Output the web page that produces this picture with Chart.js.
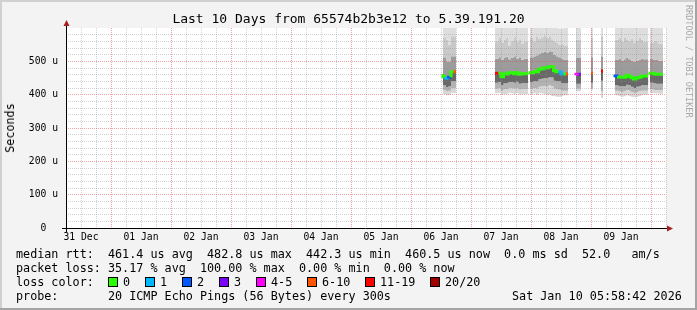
<!DOCTYPE html>
<html>
<head>
<meta charset="utf-8">
<script src="https://cdn.jsdelivr.net/npm/chart.js@4.4.1/dist/chart.umd.min.js"></script>
<style>
  body { margin: 0; background: #fff; }
  #wrap { position: relative; width: 697px; height: 310px; font-family: "DejaVu Sans Mono", monospace; color: #000; overflow: hidden; }
  #wrap canvas { position: absolute; left: 0; top: 0; }
  .txt { position: absolute; white-space: pre; line-height: 14px; font-size: 11.75px; }
  #title { position: absolute; left: 0; width: 697px; top: 11px; text-align: center; font-size: 13px; line-height: 16px; white-space: pre; }
  #unit { position: absolute; left: 10px; top: 128px; font-size: 11.75px; transform: translate(-50%, -50%) rotate(-90deg); white-space: pre; }
  #mark { position: absolute; left: 684px; top: 5px; font-size: 8.5px; color: #a8a8a8; writing-mode: vertical-rl; white-space: pre; }
  .box { position: absolute; width: 8px; height: 8px; border: 1px solid #000; }
</style>
</head>
<body>
<div id="wrap">
  <canvas id="myChart" width="697" height="310"></canvas>
  <div id="title">Last 10 Days from 65574b2b3e12 to 5.39.191.20</div>
  <div id="unit">Seconds</div>
  <div id="mark">RRDTOOL / TOBI OETIKER</div>
  <div class="txt" style="left:16px;top:247px">median rtt:  461.4 us avg  482.8 us max  442.3 us min  460.5 us now  0.0 ms sd  52.0   am/s</div>
  <div class="txt" style="left:16px;top:261px">packet loss: 35.17 % avg  100.00 % max  0.00 % min  0.00 % now</div>
  <div class="txt" style="left:16px;top:275px">loss color:</div>
  <div class="txt" style="left:16px;top:289px">probe:       20 ICMP Echo Pings (56 Bytes) every 300s</div>
  <div class="txt" style="left:512px;top:289px">Sat Jan 10 05:58:42 2026</div>
</div>
<script>
// hours since 31 Dec 00:00, null entries break the line between runs
var hours = [
  156.8, 158, 159, 160, 161, 162, 163,
  177.6, 179, 180, 181, 182, 183, 184, 185, 186, 187, 188, 189, 190, 190.8, 191.2,
  191.6, 193, 194, 195, 196, 197, 198, 199, 200, 201, 202, 203, 204, 205, 206, 206.8, 208,
  210, 211, 212, 214,
  216, 216.8, 218,
  220, 220.8, 223,
  225.6, 227, 228, 229, 230, 231, 232, 233, 234, 235, 236, 237, 238, 238.9, 239.3,
  239.6, 241, 242, 243, 244, 244.8
];

// median rtt in microseconds
var medianRtt = [
  462, 454, 449, 452, 469, 469, null,
  464, 464, 464, 454, 462, 462, 466, 466, 463, 466, 461, 463, 463, 463, null,
  461, 466, 469, 469, 476, 478, 480, 481, 484, 484, 472, 469, 469, 462, 462, 462, null,
  458, 461, 461, null,
  464, 464, null,
  471, 471, null,
  452, 456, 453, 452, 452, 458, 455, 451, 447, 451, 452, 456, 456, 456, null,
  469, 464, 462, 461, 461, 461
];

// loss bucket per step (index into lossLabels)
var lossBucket = [
  0, 1, 2, 0, 5, 5, null,
  6, 0, 0, 0, 0, 0, 0, 0, 0, 0, 0, 0, 0, 0, null,
  0, 0, 0, 0, 0, 0, 0, 0, 0, 0, 0, 1, 1, 0, 5, 5, null,
  4, 3, 3, null,
  5, 5, null,
  6, 6, null,
  2, 0, 0, 0, 0, 0, 0, 0, 0, 0, 0, 0, 0, 0, null,
  0, 0, 0, 0, 0, 0
];

// smoke: spread of the 20 pings per step
var pingMax = [
  585, 620, 620, 620, 620, 620, null,
  620, 620, 610, 620, 620, 620, 620, 605, 620, 620, 620, 620, 620, 620, null,
  620, 620, 620, 620, 620, 620, 620, 620, 620, 620, 620, 600, 598, 598, 600, 600, null,
  620, 620, 620, null,
  615, 615, null,
  620, 620, null,
  620, 620, 620, 620, 620, 620, 620, 620, 620, 620, 620, 620, 620, 620, null,
  620, 620, 620, 620, 620, 620
];
var ping90 = [
  560, 572, 565, 550, 575, 575, null,
  545, 560, 570, 555, 565, 570, 548, 560, 572, 558, 566, 552, 560, 560, null,
  565, 570, 560, 575, 568, 572, 578, 570, 575, 566, 560, 555, 550, 552, 548, 548, null,
  560, 565, 565, null,
  570, 570, null,
  575, 575, null,
  560, 565, 570, 558, 572, 566, 560, 568, 555, 562, 570, 565, 558, 558, null,
  560, 556, 562, 558, 552, 552
];
var ping75 = [
  505, 512, 500, 498, 515, 515, null,
  500, 508, 512, 504, 510, 514, 506, 510, 515, 508, 512, 505, 508, 508, null,
  506, 512, 515, 518, 522, 525, 528, 526, 530, 528, 520, 515, 512, 508, 505, 505, null,
  505, 510, 510, null,
  512, 512, null,
  515, 515, null,
  500, 505, 508, 502, 506, 510, 506, 502, 498, 502, 505, 508, 506, 506, null,
  512, 508, 505, 504, 502, 502
];
var ping25 = [
  435, 428, 422, 425, 440, 440, null,
  436, 436, 438, 428, 434, 435, 438, 438, 436, 439, 433, 435, 435, 435, null,
  433, 438, 441, 440, 446, 448, 450, 450, 452, 452, 442, 440, 440, 434, 434, 434, null,
  430, 433, 433, null,
  436, 436, null,
  442, 442, null,
  425, 428, 426, 425, 425, 430, 428, 424, 420, 424, 425, 428, 428, 428, null,
  440, 436, 434, 433, 433, 433
];
var ping10 = [
  418, 414, 410, 412, 420, 420, null,
  418, 418, 420, 412, 416, 417, 420, 420, 418, 420, 415, 417, 417, 417, null,
  414, 418, 420, 418, 424, 425, 426, 424, 428, 426, 418, 416, 415, 412, 412, 412, null,
  415, 418, 418, null,
  420, 420, null,
  410, 410, null,
  410, 412, 410, 408, 410, 414, 412, 408, 405, 408, 410, 412, 412, 412, null,
  420, 416, 414, 414, 413, 413
];
var pingMin = [
  408, 402, 398, 400, 405, 405, null,
  405, 404, 406, 400, 402, 403, 406, 404, 402, 405, 400, 402, 402, 402, null,
  400, 402, 404, 400, 405, 404, 402, 398, 400, 396, 395, 394, 394, 396, 398, 398, null,
  408, 410, 410, null,
  414, 414, null,
  390, 390, null,
  395, 398, 396, 394, 395, 398, 396, 394, 392, 394, 396, 398, 400, 400, null,
  408, 405, 404, 404, 403, 403
];

var dayLabels = ["31 Dec", "01 Jan", "02 Jan", "03 Jan", "04 Jan", "05 Jan", "06 Jan", "07 Jan", "08 Jan", "09 Jan"];
var lossLabels = ["0", "1", "2", "3", "4-5", "6-10", "11-19", "20/20"];
var lossColors = ["#26ff00", "#00b8ff", "#0059ff", "#7e00ff", "#ff00ff", "#ff5500", "#ff0000", "#a10000"];
var legendX = [108, 145, 182, 219, 256, 307, 365, 430];

var xMin = 6, xMax = 246;
var minorGrid = "rgba(140,140,140,0.4)";
var majorGrid = "rgba(230,70,70,0.5)";
var monoFont = "DejaVu Sans Mono";

// loss colour legend
var wrap = document.getElementById("wrap");
for (var i = 0; i < lossLabels.length; i++) {
  var b = document.createElement("div");
  b.className = "box";
  b.style.left = legendX[i] + "px";
  b.style.top = "277px";
  b.style.background = lossColors[i];
  wrap.appendChild(b);
  var t = document.createElement("div");
  t.className = "txt";
  t.style.left = (legendX[i] + 15) + "px";
  t.style.top = "275px";
  t.textContent = lossLabels[i];
  wrap.appendChild(t);
}

function pts(arr) {
  return hours.map(function (h, i) { return { x: h, y: arr[i] }; });
}

function band(arr, color) {
  return {
    data: pts(arr),
    fill: color ? "-1" : false,
    backgroundColor: color || "transparent",
    borderColor: "transparent",
    borderWidth: 0,
    pointRadius: 0,
    stepped: "after",
    order: 1
  };
}

var frame = {
  id: "frame",
  beforeDraw: function (chart) {
    var ctx = chart.ctx, a = chart.chartArea;
    ctx.save();
    ctx.fillStyle = "#f3f3f3";
    ctx.fillRect(0, 0, chart.width, chart.height);
    ctx.fillStyle = "#fff";
    ctx.fillRect(a.left, a.top, a.right - a.left, a.bottom - a.top);
    ctx.fillStyle = "#d0d0d0";
    ctx.fillRect(0, 0, chart.width, 2);
    ctx.fillRect(0, 0, 2, chart.height);
    ctx.fillStyle = "#a4a4a4";
    ctx.fillRect(0, chart.height - 2, chart.width, 2);
    ctx.fillRect(chart.width - 2, 0, 2, chart.height);
    ctx.restore();
  },
  afterDraw: function (chart) {
    var ctx = chart.ctx, a = chart.chartArea;
    ctx.save();
    ctx.strokeStyle = "#000";
    ctx.lineWidth = 1;
    ctx.beginPath();
    ctx.moveTo(a.left - 4, a.bottom + 0.5);
    ctx.lineTo(a.right + 3, a.bottom + 0.5);
    ctx.moveTo(a.left + 0.5, a.bottom + 4);
    ctx.lineTo(a.left + 0.5, a.top - 4);
    ctx.stroke();
    ctx.fillStyle = "#a81d1d";
    ctx.beginPath();
    ctx.moveTo(a.right + 1, a.bottom - 2.5);
    ctx.lineTo(a.right + 7, a.bottom + 0.5);
    ctx.lineTo(a.right + 1, a.bottom + 3.5);
    ctx.fill();
    ctx.beginPath();
    ctx.moveTo(a.left - 2.5, a.top - 2);
    ctx.lineTo(a.left + 0.5, a.top - 8);
    ctx.lineTo(a.left + 3.5, a.top - 2);
    ctx.fill();
    ctx.restore();
  }
};

var ctx = document.getElementById("myChart").getContext("2d");
var myChart = new Chart(ctx, {
  type: "line",
  data: {
    datasets: [
      band(pingMax, null),
      band(ping90, "#dedede"),
      band(ping75, "#c9c9c9"),
      band(medianRtt, "#9c9c9c"),
      band(ping25, "#686868"),
      band(ping10, "#b2b2b2"),
      band(pingMin, "#d8d8d8"),
      {
        data: pts(medianRtt),
        fill: false,
        borderWidth: 3,
        pointRadius: 0,
        stepped: "after",
        order: 0,
        borderColor: "#26ff00",
        segment: {
          borderColor: function (c) { return lossColors[lossBucket[c.p0DataIndex]]; }
        }
      }
    ]
  },
  options: {
    responsive: false,
    animation: false,
    layout: { padding: { left: 0, top: 28, right: 31, bottom: 0 } },
    plugins: { legend: { display: false }, tooltip: { enabled: false } },
    scales: {
      x: {
        type: "linear",
        min: xMin,
        max: xMax,
        afterFit: function (s) { s.height = 82; },
        afterBuildTicks: function (s) {
          var t = [];
          for (var h = xMin; h <= xMax; h += 6) t.push({ value: h });
          s.ticks = t;
        },
        grid: {
          z: 1,
          drawTicks: false,
          color: function (c) { return c.tick.value % 24 === 0 ? majorGrid : minorGrid; }
        },
        border: { display: false, dash: [1, 1] },
        ticks: {
          autoSkip: false,
          maxRotation: 0,
          padding: 4,
          color: "#000",
          font: { family: monoFont, size: 9.7 },
          callback: function (v) { return v % 24 === 12 ? dayLabels[(v - 12) / 24] : ""; }
        }
      },
      y: {
        min: 0,
        max: 600,
        afterFit: function (s) { s.width = 66; },
        afterBuildTicks: function (s) {
          var t = [];
          for (var v = 0; v <= 600; v += 20) t.push({ value: v });
          s.ticks = t;
        },
        grid: {
          z: 1,
          drawTicks: false,
          color: function (c) {
            if (c.tick.value === 600) return "transparent";
            return c.tick.value % 100 === 0 ? majorGrid : minorGrid;
          }
        },
        border: { display: false, dash: [1, 1] },
        ticks: {
          autoSkip: false,
          padding: 8,
          crossAlign: "center",
          color: "#000",
          font: { family: monoFont, size: 9.7 },
          callback: function (v) {
            if (v === 0) return "0";
            return v % 100 === 0 && v < 600 ? v + " u" : "";
          }
        }
      }
    }
  },
  plugins: [frame]
});
</script>
</body>
</html>
